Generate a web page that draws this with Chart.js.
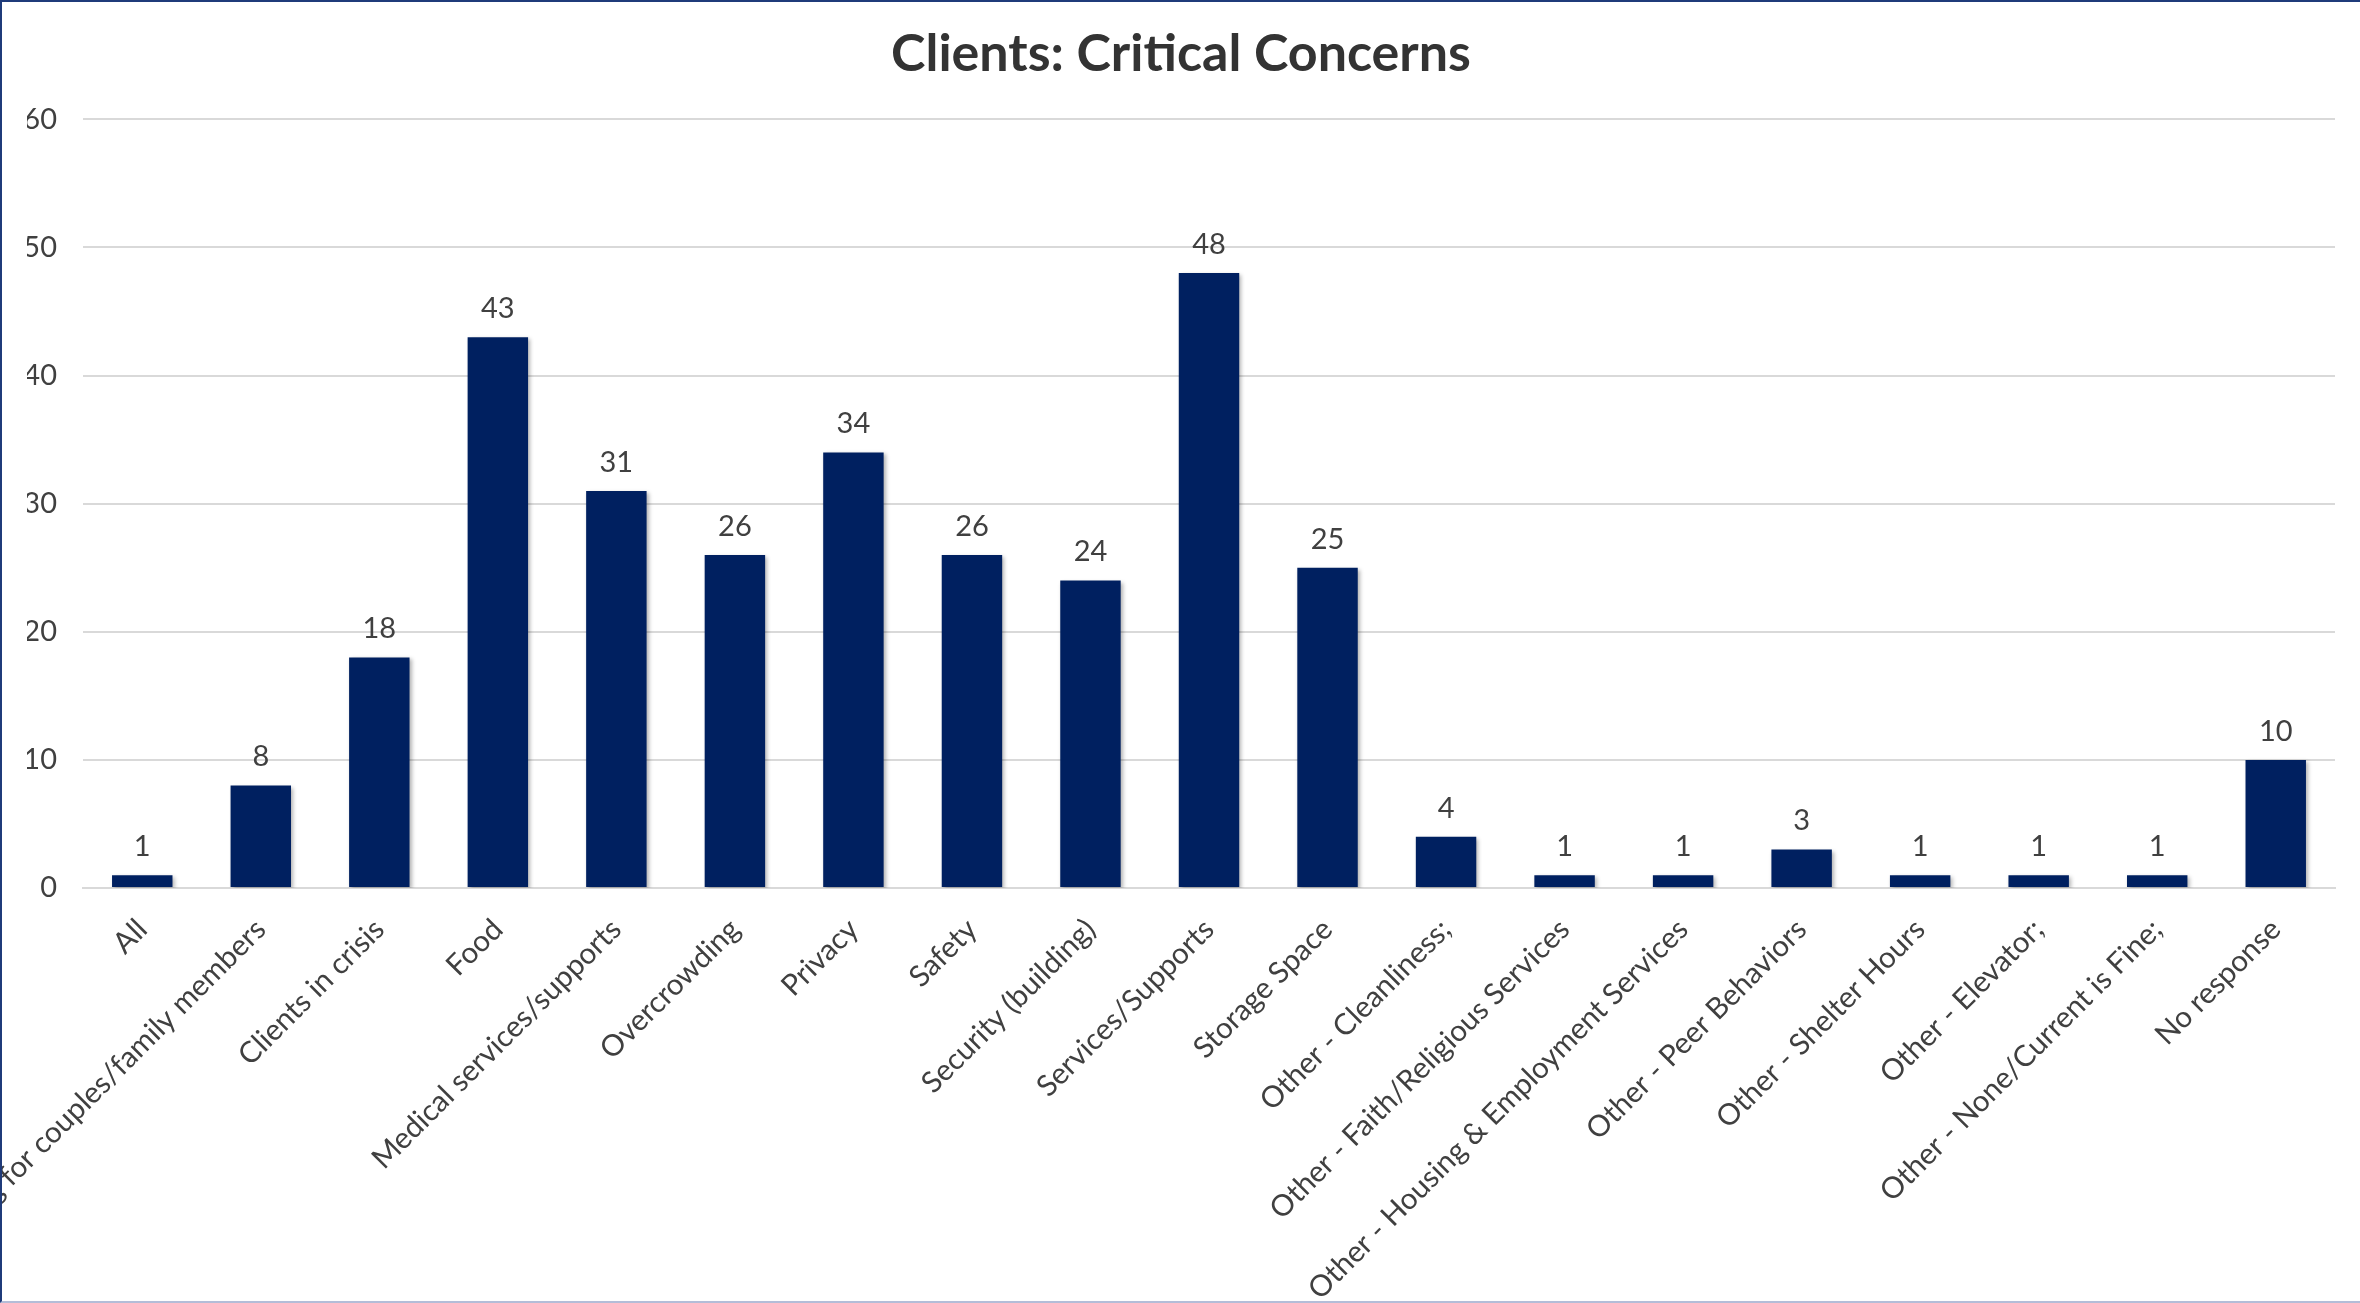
<!DOCTYPE html>
<html>
<head>
<meta charset="utf-8">
<script src="https://cdn.jsdelivr.net/npm/chart.js@4.4.0/dist/chart.umd.min.js"></script>
<style>
  html, body { margin: 0; padding: 0; background: #ffffff; }
  .chart-box {
    width: 2360px;
    height: 1303px;
    box-sizing: border-box;
    border-left: 2px solid #1f3b7a;
    border-top: 2px solid #1f3b7a;
    border-bottom: 2px solid #b4bdd8;
    position: relative;
  }
</style>
</head>
<body>
<div class="chart-box">
  <canvas id="concernsChart"></canvas>
</div>
<script>
const categories = [
  "All",
  "Housing for couples/family members",
  "Clients in crisis",
  "Food",
  "Medical services/supports",
  "Overcrowding",
  "Privacy",
  "Safety",
  "Security (building)",
  "Services/Supports",
  "Storage Space",
  "Other - Cleanliness;",
  "Other - Faith/Religious Services",
  "Other - Housing & Employment Services",
  "Other - Peer Behaviors",
  "Other - Shelter Hours",
  "Other - Elevator;",
  "Other - None/Current is Fine;",
  "No response"
];
const counts = [1, 8, 18, 43, 31, 26, 34, 26, 24, 48, 25, 4, 1, 1, 3, 1, 1, 1, 10];
const yTicks = [0, 10, 20, 30, 40, 50, 60];

const textColor = "#404040";
const fontFamily = "Lato, 'Open Sans', sans-serif";

// value labels above each bar
const valueLabels = {
  id: "valueLabels",
  afterDatasetsDraw(chart) {
    const ctx = chart.ctx;
    const meta = chart.getDatasetMeta(0);
    ctx.save();
    ctx.font = "29px " + fontFamily;
    ctx.fillStyle = textColor;
    ctx.textAlign = "center";
    ctx.textBaseline = "bottom";
    meta.data.forEach((bar, i) => {
      ctx.fillText(String(counts[i]), bar.x, bar.y - 14);
    });
    ctx.restore();
  }
};

// soft shadow under the bars
const barShadow = {
  id: "barShadow",
  beforeDatasetDraw(chart) {
    const ctx = chart.ctx;
    ctx.save();
    ctx.shadowColor = "rgba(0, 0, 0, 0.3)";
    ctx.shadowBlur = 4;
    ctx.shadowOffsetX = 2;
    ctx.shadowOffsetY = 2;
  },
  afterDatasetDraw(chart) {
    chart.ctx.restore();
  }
};

const ctx = document.getElementById("concernsChart").getContext("2d");

new Chart(ctx, {
  type: "bar",
  data: {
    labels: categories,
    datasets: [
      {
        label: "Clients",
        data: counts,
        backgroundColor: "#002060",
        borderWidth: 0,
        barPercentage: 0.51,
        categoryPercentage: 1.0
      }
    ]
  },
  options: {
    responsive: true,
    maintainAspectRatio: false,
    animation: false,
    layout: {
      padding: { left: 25, right: 25, top: 0, bottom: 0 }
    },
    scales: {
      x: {
        grid: { display: false, drawTicks: false },
        border: { color: "#d9d9d9", width: 2 },
        ticks: {
          autoSkip: false,
          minRotation: 45,
          maxRotation: 45,
          padding: 24,
          color: textColor,
          font: { family: fontFamily, size: 29.5 }
        },
        afterFit(scale) {
          scale.height = 413;
        }
      },
      y: {
        min: 0,
        max: 60,
        afterBuildTicks(scale) {
          scale.ticks = yTicks.map(v => ({ value: v }));
        },
        grid: { color: "#d9d9d9", lineWidth: 2, drawTicks: false },
        border: { display: false },
        ticks: {
          padding: 26,
          color: textColor,
          font: { family: fontFamily, size: 29 }
        },
        afterFit(scale) {
          scale.width = 56;
        }
      }
    },
    plugins: {
      legend: { display: false },
      tooltip: { enabled: false },
      title: {
        display: true,
        text: "Clients: Critical Concerns",
        color: "#333333",
        font: { family: fontFamily, size: 52, weight: "bold" },
        padding: { top: 21, bottom: 34 }
      }
    }
  },
  plugins: [barShadow, valueLabels]
});
</script>
</body>
</html>
